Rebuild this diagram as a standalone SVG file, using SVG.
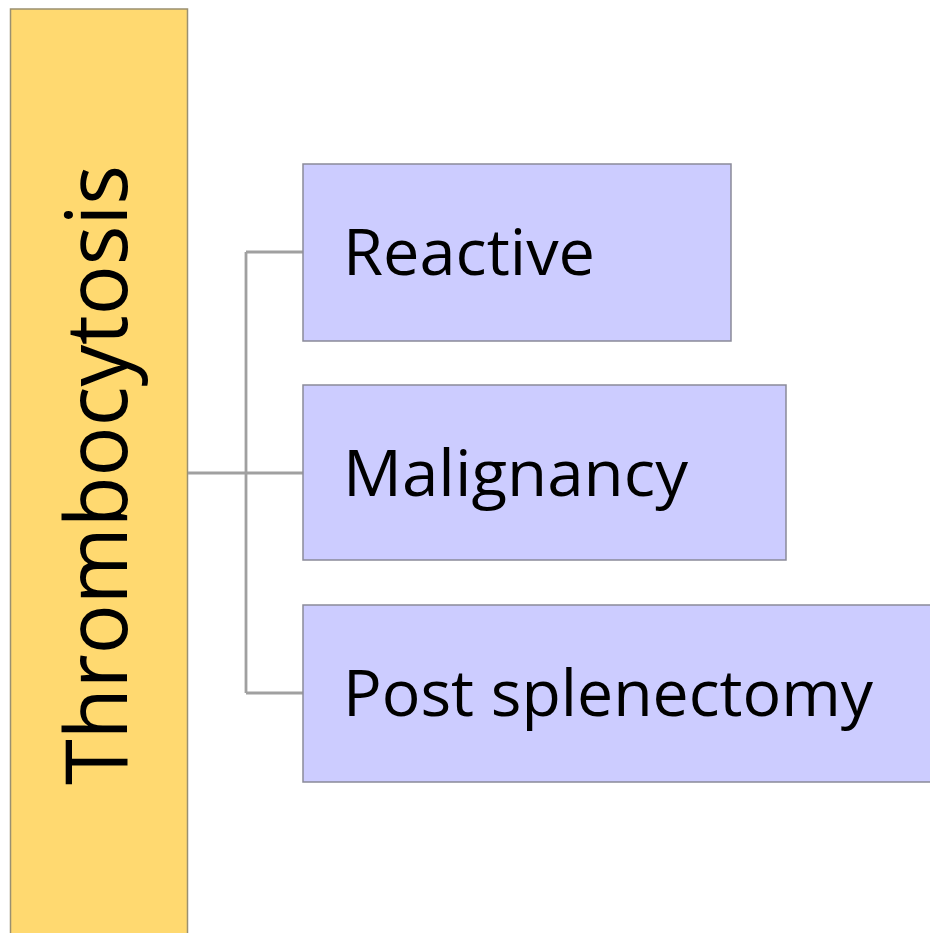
<svg xmlns="http://www.w3.org/2000/svg" width="930" height="933" viewBox="0 0 930 933">
<style>
.box{fill:#ccccff;stroke:#8a8a99;stroke-width:1.5}
.lbl{font-family:"Open Sans","Liberation Sans",sans-serif;font-size:64px;fill:#000}
.conn{fill:none;stroke:#a0a0a0;stroke-width:2.8}
</style>
<rect width="930" height="933" fill="#ffffff"/>
<g id="root">
<rect x="10.5" y="9" width="177" height="940" fill="#ffd970" stroke="#9a9070" stroke-width="1.5"/>
<text class="lbl" transform="translate(127,475) rotate(-90)" text-anchor="middle" style="font-size:86px" textLength="620" lengthAdjust="spacingAndGlyphs">Thrombocytosis</text>
</g>
<g id="connectors">
<path class="conn" d="M188,473 H303 M246,252 V693 M246,252 H303 M246,693 H303"/>
</g>
<g id="n-reactive">
<rect class="box" x="303" y="164" width="428" height="177"/>
<text class="lbl" x="343" y="275" textLength="252" lengthAdjust="spacingAndGlyphs">Reactive</text>
</g>
<g id="n-malignancy">
<rect class="box" x="303" y="385" width="483" height="175"/>
<text class="lbl" x="343" y="496" textLength="345" lengthAdjust="spacingAndGlyphs">Malignancy</text>
</g>
<g id="n-post">
<rect class="box" x="303" y="605" width="640" height="177"/>
<text class="lbl" x="343" y="716" textLength="530" lengthAdjust="spacingAndGlyphs">Post splenectomy</text>
</g>
</svg>
